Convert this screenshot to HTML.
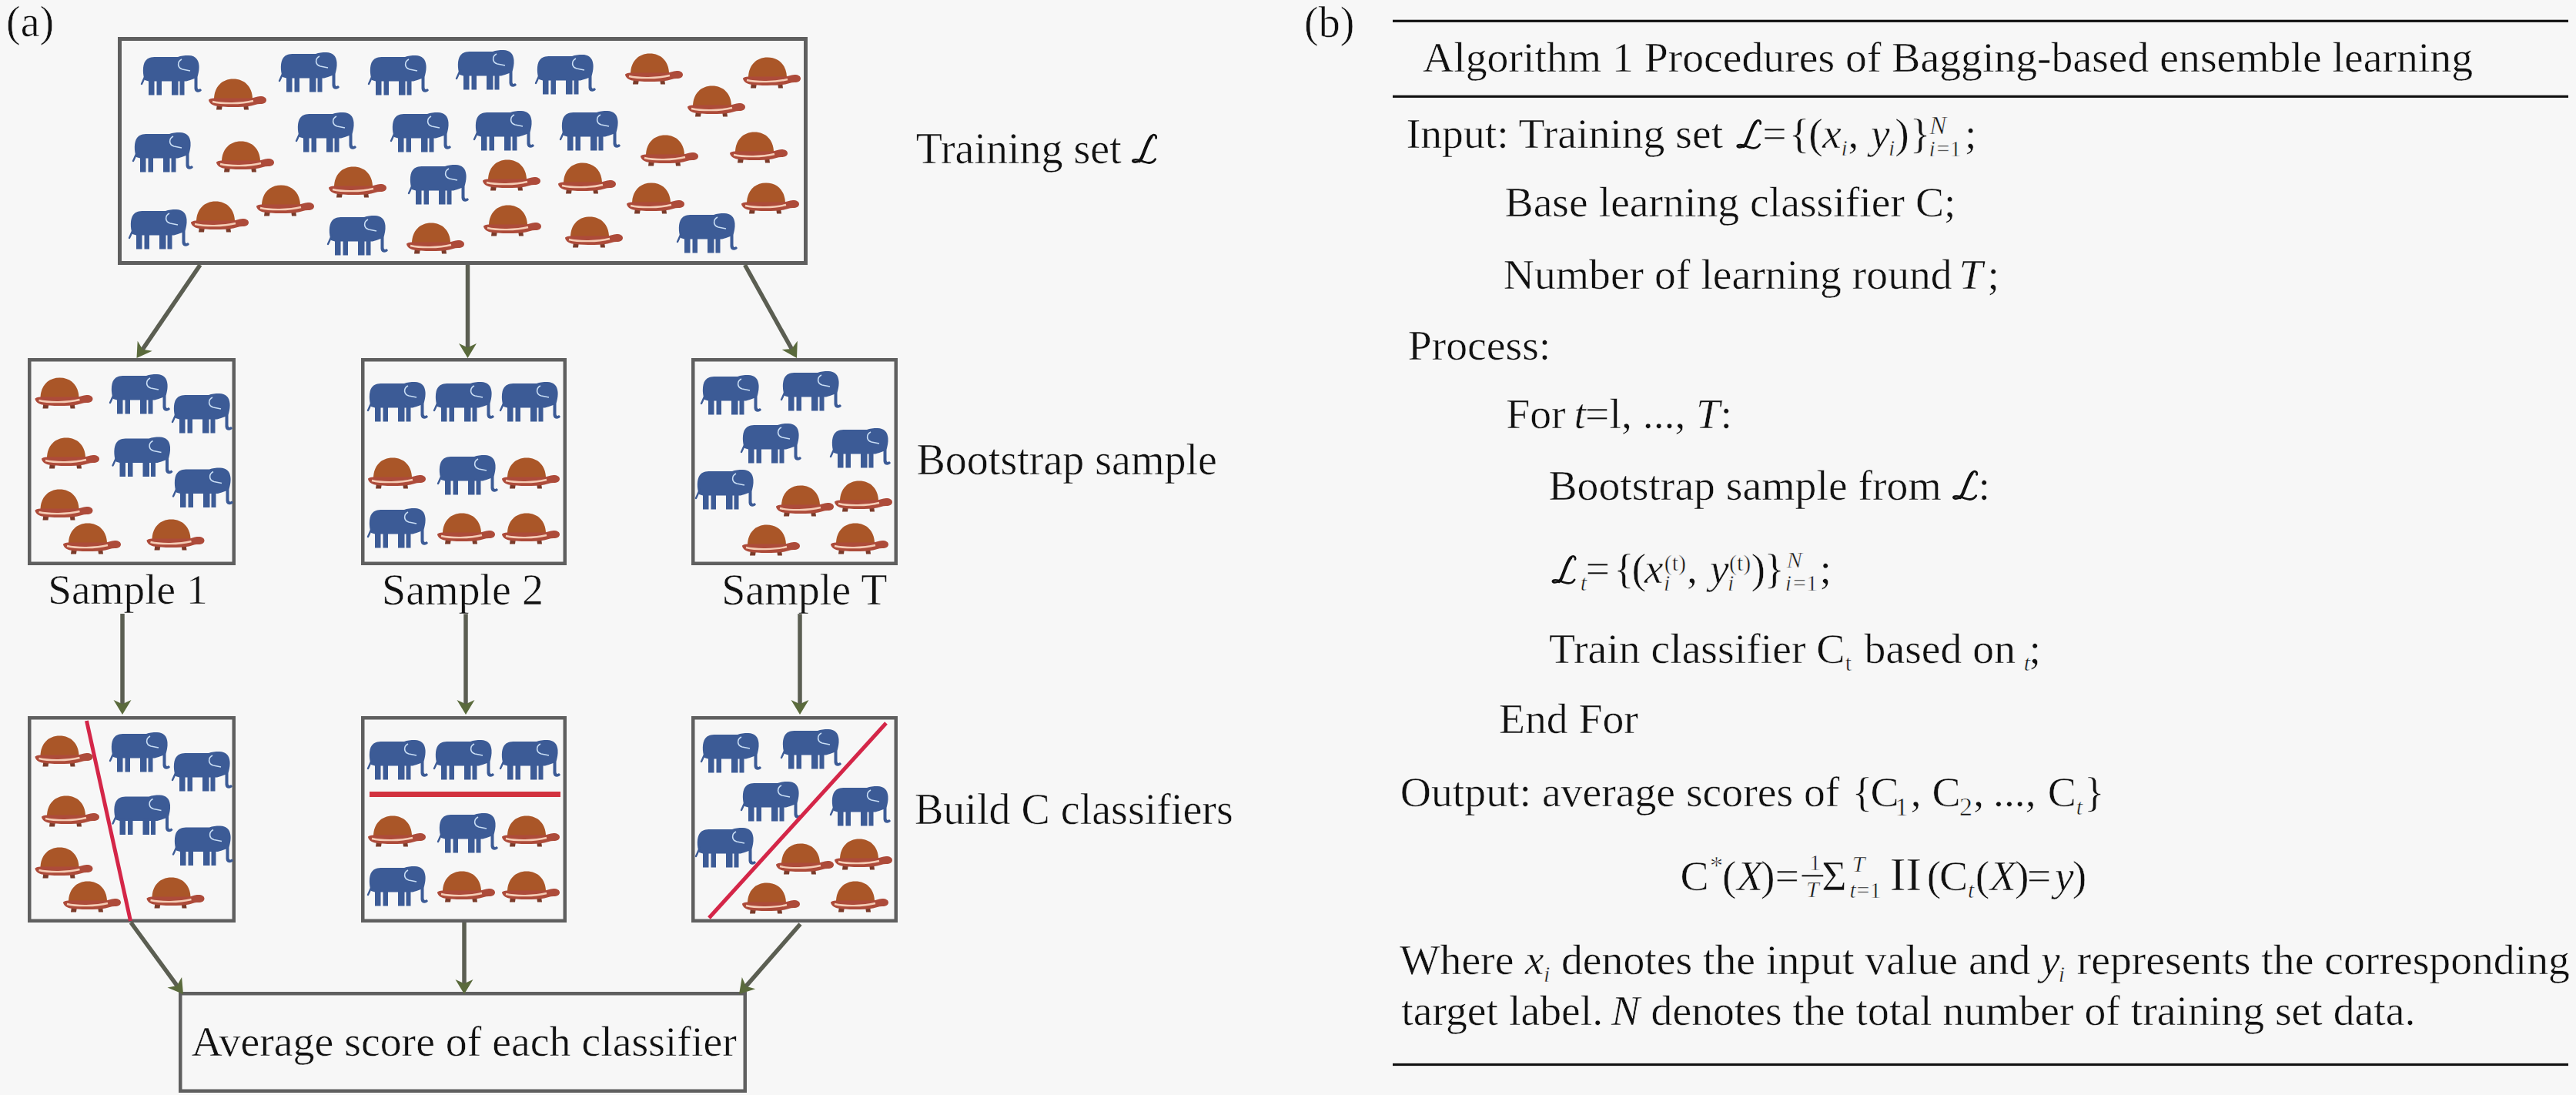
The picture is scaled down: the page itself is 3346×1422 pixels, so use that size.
<!DOCTYPE html>
<html><head><meta charset="utf-8"><title>Bagging</title>
<style>
html,body{margin:0;padding:0;background:#f7f7f7;}
body{width:3346px;height:1422px;overflow:hidden;font-family:"Liberation Serif",serif;}
svg{display:block;}
</style></head>
<body>
<svg width="3346" height="1422" viewBox="0 0 3346 1422">

<defs>
 <symbol id="el" viewBox="0 0 75 52" width="75" height="52" overflow="visible">
  <g fill="#3c5b96">
   <path d="M3,32 C0,24 0,12 4,7 C7,3 11,2 18,2 L46,2 C50,0.5 54,0 60,0 C68,0 73,5 73.5,13 C74,19 72.5,24 71.5,28 L71.5,41 C71.5,44 73,45 75,43 L77,45 C75,49 68,49 67.5,43 L67.5,30 C64,31.5 60,32.5 57,33.5 L8,33.5 Z"/>
   <rect x="8" y="30" width="7.5" height="21.5"/>
   <rect x="18.5" y="30" width="6.5" height="21.5"/>
   <rect x="38" y="30" width="8.5" height="21.5"/>
   <rect x="48.5" y="30" width="6" height="21.5"/>
  </g>
  <path d="M4,26 C2,30 1,33 -1,37" stroke="#3c5b96" stroke-width="2.4" fill="none" stroke-linecap="round"/>
  <path d="M51,5 C45,8 45,16 52,18 L62,20" stroke="#c9def5" stroke-width="1.6" fill="none"/>
 </symbol>
 <symbol id="tu" viewBox="0 0 74 41" width="74" height="41" overflow="visible">
  <path d="M9,33 L8,40.5 L15,40.5 L16,33 Z M43,33 L44,40.5 L50,40.5 L49,33 Z" fill="#7a3b2a"/>
  <path d="M5,26 C5.5,11 15,0.5 30,0.5 C45,0.5 54.5,11 55,26 Z" fill="#aa5628"/>
  <path d="M-2,27.5 C1,25.5 4,25.5 7,25.5 L53,25.5 C57,25.5 60,23 65,23 C70,23 73,25 73,28 C73,31 70,33 65,33 C60,33 57,34.5 53,35.5 C41,37.5 18,37.5 7,35.5 C2,34.5 -2,31 -2,27.5 Z" fill="#ad4b3a"/>
  <path d="M3,30 C16,33 40,33 56,29" stroke="#f5cdb6" stroke-width="2.4" fill="none"/>
 </symbol>
 <path id="sLp" d="M34,-34 C35,-38 31,-40 28,-37 C23,-33 20,-21 16,-11 C14,-5 11,-1 5,-1 C2,-1 1,-3 3,-4 C7,-6 13,-3 19,-1 C25,1 30,0 33,-5"
        stroke="#111" stroke-width="2.9" fill="none" stroke-linecap="round"/>
 <path id="sLd" d="M27.5,-36 C23,-31 20,-21 16,-11 C14.5,-7 13,-4 11,-2.5" stroke="#111" stroke-width="4.3" fill="none" stroke-linecap="round"/>
</defs>
<rect width="3346" height="1422" fill="#f7f7f7"/>
<g><rect x="155.5" y="50.5" width="891" height="291" fill="none" stroke="#5f5f5f" stroke-width="5"/><rect x="38.25" y="467.25" width="265.5" height="264.5" fill="none" stroke="#5f5f5f" stroke-width="4.5"/><rect x="471.25" y="467.25" width="262.5" height="264.5" fill="none" stroke="#5f5f5f" stroke-width="4.5"/><rect x="900.25" y="467.25" width="263.5" height="264.5" fill="none" stroke="#5f5f5f" stroke-width="4.5"/><rect x="38.25" y="932.25" width="265.5" height="263.5" fill="none" stroke="#5f5f5f" stroke-width="4.5"/><rect x="471.25" y="932.25" width="262.5" height="263.5" fill="none" stroke="#5f5f5f" stroke-width="4.5"/><rect x="900.25" y="932.25" width="263.5" height="263.5" fill="none" stroke="#5f5f5f" stroke-width="4.5"/><rect x="234.25" y="1290.25" width="733.5" height="126.5" fill="none" stroke="#5f5f5f" stroke-width="4.5"/></g>
<g>
<use href="#el" x="185" y="72"/>
<use href="#el" x="364" y="68"/>
<use href="#el" x="480" y="72"/>
<use href="#el" x="594" y="65"/>
<use href="#el" x="697" y="71"/>
<use href="#el" x="386" y="146"/>
<use href="#el" x="509" y="146"/>
<use href="#el" x="617" y="144"/>
<use href="#el" x="729" y="144"/>
<use href="#el" x="174" y="172"/>
<use href="#el" x="532" y="214"/>
<use href="#el" x="169" y="272"/>
<use href="#el" x="427" y="280"/>
<use href="#el" x="881" y="277"/>
<use href="#tu" x="273" y="102"/>
<use href="#tu" x="814" y="69"/>
<use href="#tu" x="967" y="74"/>
<use href="#tu" x="895" y="111"/>
<use href="#tu" x="283" y="183"/>
<use href="#tu" x="834" y="175"/>
<use href="#tu" x="950" y="171"/>
<use href="#tu" x="429" y="216"/>
<use href="#tu" x="335" y="240"/>
<use href="#tu" x="629" y="207"/>
<use href="#tu" x="727" y="211"/>
<use href="#tu" x="816" y="237"/>
<use href="#tu" x="965" y="237"/>
<use href="#tu" x="250" y="261"/>
<use href="#tu" x="630" y="266"/>
<use href="#tu" x="736" y="281"/>
<use href="#tu" x="530" y="289"/>
<use href="#el" x="144" y="486"/>
<use href="#el" x="225" y="511"/>
<use href="#el" x="147.5" y="567.5"/>
<use href="#el" x="226" y="607.5"/>
<use href="#el" x="479" y="496"/>
<use href="#el" x="565" y="496"/>
<use href="#el" x="651" y="496"/>
<use href="#el" x="570" y="591"/>
<use href="#el" x="479" y="660"/>
<use href="#el" x="912" y="487"/>
<use href="#el" x="1016" y="482"/>
<use href="#el" x="964" y="550"/>
<use href="#el" x="1080" y="556"/>
<use href="#el" x="905" y="610"/>
<use href="#tu" x="47.5" y="490"/>
<use href="#tu" x="56" y="568"/>
<use href="#tu" x="47.5" y="635"/>
<use href="#tu" x="84" y="679"/>
<use href="#tu" x="192.5" y="674"/>
<use href="#tu" x="480" y="594"/>
<use href="#tu" x="654" y="594"/>
<use href="#tu" x="570" y="666"/>
<use href="#tu" x="654" y="666"/>
<use href="#tu" x="1010" y="630"/>
<use href="#tu" x="1086" y="624"/>
<use href="#tu" x="966" y="681"/>
<use href="#tu" x="1081" y="679"/>
<use href="#el" x="144" y="951"/>
<use href="#el" x="225" y="976"/>
<use href="#el" x="147.5" y="1032.5"/>
<use href="#el" x="226" y="1072.5"/>
<use href="#el" x="479" y="961"/>
<use href="#el" x="565" y="961"/>
<use href="#el" x="651" y="961"/>
<use href="#el" x="570" y="1056"/>
<use href="#el" x="479" y="1125"/>
<use href="#el" x="912" y="952"/>
<use href="#el" x="1016" y="947"/>
<use href="#el" x="964" y="1015"/>
<use href="#el" x="1080" y="1021"/>
<use href="#el" x="905" y="1075"/>
<use href="#tu" x="47.5" y="955"/>
<use href="#tu" x="56" y="1033"/>
<use href="#tu" x="47.5" y="1100"/>
<use href="#tu" x="84" y="1144"/>
<use href="#tu" x="192.5" y="1139"/>
<use href="#tu" x="480" y="1059"/>
<use href="#tu" x="654" y="1059"/>
<use href="#tu" x="570" y="1131"/>
<use href="#tu" x="654" y="1131"/>
<use href="#tu" x="1010" y="1095"/>
<use href="#tu" x="1086" y="1089"/>
<use href="#tu" x="966" y="1146"/>
<use href="#tu" x="1081" y="1144"/>
</g>
<g><line x1="112.5" y1="936" x2="169.5" y2="1196" stroke="#d42648" stroke-width="5"/><line x1="480" y1="1031.5" x2="728" y2="1031.5" stroke="#d2323f" stroke-width="7"/><line x1="921" y1="1192" x2="1151" y2="939" stroke="#d42648" stroke-width="5"/></g>
<g><line x1="260" y1="344" x2="183.9" y2="455.6" stroke="#5b5e52" stroke-width="5.5"/><path d="M177.5,465.0 L178.7,442.8 L185.2,453.7 L197.7,455.8 Z" fill="#5a6a3c"/><line x1="607.5" y1="344" x2="607.5" y2="453.6" stroke="#5b5e52" stroke-width="5.5"/><path d="M607.5,465.0 L596.0,446.0 L607.5,451.3 L619.0,446.0 Z" fill="#5a6a3c"/><line x1="967.5" y1="344" x2="1029.4" y2="455.0" stroke="#5b5e52" stroke-width="5.5"/><path d="M1035.0,465.0 L1015.7,454.0 L1028.3,453.1 L1035.8,442.8 Z" fill="#5a6a3c"/><line x1="159" y1="797" x2="159.0" y2="916.6" stroke="#5b5e52" stroke-width="5.5"/><path d="M159.0,928.0 L147.5,909.0 L159.0,914.3 L170.5,909.0 Z" fill="#5a6a3c"/><line x1="605" y1="797" x2="605.0" y2="916.6" stroke="#5b5e52" stroke-width="5.5"/><path d="M605.0,928.0 L593.5,909.0 L605.0,914.3 L616.5,909.0 Z" fill="#5a6a3c"/><line x1="1039" y1="797" x2="1039.0" y2="916.6" stroke="#5b5e52" stroke-width="5.5"/><path d="M1039.0,928.0 L1027.5,909.0 L1039.0,914.3 L1050.5,909.0 Z" fill="#5a6a3c"/><line x1="170" y1="1198" x2="231.3" y2="1281.8" stroke="#5b5e52" stroke-width="5.5"/><path d="M238.0,1291.0 L217.5,1282.5 L229.9,1280.0 L236.1,1268.9 Z" fill="#5a6a3c"/><line x1="603" y1="1198" x2="603.0" y2="1279.6" stroke="#5b5e52" stroke-width="5.5"/><path d="M603.0,1291.0 L591.5,1272.0 L603.0,1277.3 L614.5,1272.0 Z" fill="#5a6a3c"/><line x1="1039.5" y1="1200" x2="967.5" y2="1282.4" stroke="#5b5e52" stroke-width="5.5"/><path d="M960.0,1291.0 L963.8,1269.1 L969.0,1280.7 L981.2,1284.3 Z" fill="#5a6a3c"/></g>
<g font-family="Liberation Serif" fill="#111" stroke="#f7f7f7" stroke-width="0.55">
<text x="8.0" y="46.5" font-size="56">(a)</text>
<text x="1189.7" y="211.5" font-size="56">Training set</text>
<g transform="translate(1469.5,211.5) scale(0.943)"><use href="#sLp"/><use href="#sLd"/></g>
<text x="1190.5" y="615.5" font-size="56">Bootstrap sample</text>
<text x="62.2" y="784.3" font-size="55.3">Sample 1</text>
<text x="496.0" y="784.5" font-size="56">Sample 2</text>
<text x="937.2" y="784.5" font-size="56">Sample T</text>
<text x="1188.0" y="1069.7" font-size="56">Build C classifiers</text>
<text x="248.4" y="1370.8" font-size="55.8">Average score of each classifier</text>
<text x="1694.0" y="47.5" font-size="56">(b)</text>
<text x="1848.0" y="92.8" font-size="55.7">Algorithm 1 Procedures of Bagging-based ensemble learning</text>
<text x="1826.7" y="192.3" font-size="55.7">Input: Training set</text>
<g transform="translate(2254.9,192.3) scale(0.931)"><use href="#sLp"/><use href="#sLd"/></g>
<text x="2289.3" y="192.3" font-size="55.7">=</text>
<text x="2323.8" y="192.3" font-size="55.7">{</text>
<text x="2349.2" y="192.3" font-size="55.7">(</text>
<text x="2366.9" y="192.3" font-size="55.7" font-style="italic">x</text>
<text x="2391.5" y="202.3" font-size="30" font-style="italic">i</text>
<text x="2400.4" y="192.3" font-size="55.7">,</text>
<text x="2429.9" y="192.3" font-size="55.7" font-style="italic">y</text>
<text x="2453.0" y="202.3" font-size="30" font-style="italic">i</text>
<text x="2461.3" y="192.3" font-size="55.7">)</text>
<text x="2480.7" y="192.3" font-size="55.7">}</text>
<text x="2506.2" y="174" font-size="33" font-style="italic">N</text>
<text x="2505.5" y="202.5" font-size="30" font-style="italic">i</text>
<text x="2515.5" y="202.5" font-size="30">=1</text>
<text x="2551.9" y="192.3" font-size="55.7">;</text>
<text x="1954.5" y="281.2" font-size="55.7">Base learning classifier C;</text>
<text x="1952.7" y="374.8" font-size="55.7">Number of learning round</text>
<text x="2544.5" y="374.8" font-size="55.7" font-style="italic">T</text>
<text x="2581.5" y="374.8" font-size="55.7">;</text>
<text x="1828.7" y="467.3" font-size="55.7">Process:</text>
<text x="1956.2" y="556.3" font-size="55.7">For</text>
<text x="2044.5" y="556.3" font-size="55.7" font-style="italic">t</text>
<text x="2059.0" y="556.3" font-size="55.7">=l, ..., </text>
<text x="2203.0" y="556.3" font-size="55.7" font-style="italic">T</text>
<text x="2234.5" y="556.3" font-size="55.7">:</text>
<text x="2011.4" y="648.5" font-size="55.7">Bootstrap sample from</text>
<g transform="translate(2535.6,648.5) scale(0.943)"><use href="#sLp"/><use href="#sLd"/></g>
<text x="2569.5" y="648.5" font-size="55.7">:</text>
<g transform="translate(2015.1,757.4) scale(0.909)"><use href="#sLp"/><use href="#sLd"/></g>
<text x="2052.7" y="767" font-size="30" font-style="italic">t</text>
<text x="2059.5" y="757.4" font-size="55.7">=</text>
<text x="2096.0" y="757.4" font-size="55.7">{</text>
<text x="2119.5" y="757.4" font-size="55.7">(</text>
<text x="2135.8" y="757.4" font-size="55.7" font-style="italic">x</text>
<text x="2161.8" y="740.5" font-size="30">(t)</text>
<text x="2161.0" y="767" font-size="30" font-style="italic">i</text>
<text x="2191.0" y="757.4" font-size="55.7">,</text>
<text x="2221.0" y="757.4" font-size="55.7" font-style="italic">y</text>
<text x="2246.0" y="740.5" font-size="30">(t)</text>
<text x="2244.0" y="767" font-size="30" font-style="italic">i</text>
<text x="2274.4" y="757.4" font-size="55.7">)</text>
<text x="2291.3" y="757.4" font-size="55.7">}</text>
<text x="2320.7" y="736.5" font-size="30" font-style="italic">N</text>
<text x="2318.7" y="767" font-size="30" font-style="italic">i</text>
<text x="2329.0" y="767" font-size="30">=1</text>
<text x="2363.4" y="757.4" font-size="55.7">;</text>
<text x="2011.9" y="861" font-size="55.7">Train classifier C</text>
<text x="2396.8" y="871.3" font-size="30">t</text>
<text x="2421.6" y="861" font-size="55.7">based on</text>
<text x="2628.8" y="871.3" font-size="30" font-style="italic">t</text>
<text x="2635.5" y="861" font-size="55.7">;</text>
<text x="1946.9" y="951.5" font-size="55.7">End For</text>
<text x="1818.8" y="1046.6" font-size="55.7">Output: average scores of</text>
<text x="2405.4" y="1046.6" font-size="55.7">{</text>
<text x="2429.4" y="1046.6" font-size="55.7">C</text>
<text x="2461.5" y="1058.5" font-size="34">1</text>
<text x="2481.7" y="1046.6" font-size="55.7">,</text>
<text x="2509.6" y="1046.6" font-size="55.7">C</text>
<text x="2545.0" y="1058.5" font-size="34">2</text>
<text x="2563.3" y="1046.6" font-size="55.7">,</text>
<text x="2589.0" y="1046.6" font-size="55.7">...,</text>
<text x="2659.7" y="1046.6" font-size="55.7">C</text>
<text x="2696.7" y="1057.5" font-size="30" font-style="italic">t</text>
<text x="2707.0" y="1046.6" font-size="55.7">}</text>
<text x="2182.6" y="1156.4" font-size="55.7">C</text>
<text x="2221.0" y="1135" font-size="34">*</text>
<text x="2237.0" y="1156.4" font-size="55.7">(</text>
<text x="2256.0" y="1156.4" font-size="55.7" font-style="italic">X</text>
<text x="2287.0" y="1156.4" font-size="55.7">)</text>
<text x="2305.4" y="1156.4" font-size="55.7">=</text>
<text x="2350.0" y="1130" font-size="30">1</text>
<rect x="2340.5" y="1136.3" width="27.7" height="2" fill="#111" stroke="none"/>
<text x="2346.0" y="1165" font-size="30" font-style="italic">T</text>
<text x="2366.2" y="1156.4" font-size="55.7">Σ</text>
<text x="2405.7" y="1131.5" font-size="30" font-style="italic">T</text>
<text x="2402.4" y="1166" font-size="30" font-style="italic">t</text>
<text x="2411.5" y="1166" font-size="30">=1</text>
<text x="2454.8" y="1156.4" font-size="62">II</text>
<text x="2502.8" y="1156.4" font-size="55.7">(</text>
<text x="2518.9" y="1156.4" font-size="55.7">C</text>
<text x="2556.0" y="1166" font-size="30" font-style="italic">t</text>
<text x="2565.8" y="1156.4" font-size="55.7">(</text>
<text x="2584.8" y="1156.4" font-size="55.7" font-style="italic">X</text>
<text x="2617.0" y="1156.4" font-size="55.7">)</text>
<text x="2633.0" y="1156.4" font-size="55.7">=</text>
<text x="2668.9" y="1156.4" font-size="55.7" font-style="italic">y</text>
<text x="2691.8" y="1156.4" font-size="55.7">)</text>
<text x="1818.0" y="1264.5" font-size="55.7">Where</text>
<text x="1980.8" y="1264.5" font-size="55.7" font-style="italic">x</text>
<text x="2005.0" y="1275" font-size="30" font-style="italic">i</text>
<text x="2028.0" y="1264.5" font-size="55.7">denotes the input value and</text>
<text x="2651.0" y="1264.5" font-size="55.7" font-style="italic">y</text>
<text x="2673.7" y="1275" font-size="30" font-style="italic">i</text>
<text x="2697.7" y="1264.5" font-size="55.7">represents the corresponding</text>
<text x="1820.3" y="1330.8" font-size="55.7">target label.</text>
<text x="2093.0" y="1330.8" font-size="55.7" font-style="italic">N</text>
<text x="2144.6" y="1330.8" font-size="55.7">denotes the total number of training set data.</text>
</g>
<g><rect x="1809" y="25.7" width="1527" height="3.2" fill="#111"/><rect x="1809" y="123.7" width="1527" height="3.2" fill="#111"/><rect x="1809" y="1380.9" width="1527" height="3.2" fill="#111"/></g>
</svg>
</body></html>
